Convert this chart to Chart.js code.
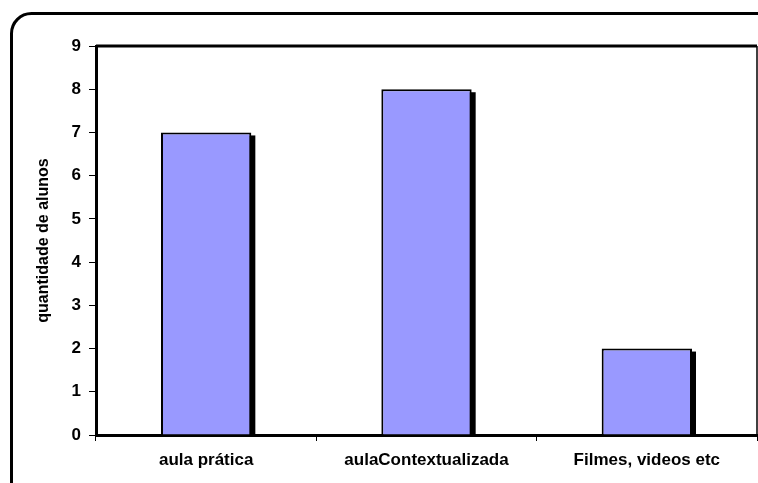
<!DOCTYPE html>
<html lang="pt">
<head>
<meta charset="UTF-8">
<title>Quantidade de alunos</title>
<script src="https://cdn.jsdelivr.net/npm/chart.js"></script>
<style>
    html, body { margin: 0; padding: 0; background: #ffffff; }
    #wrap { width: 758px; height: 483px; position: relative; }
</style>
</head>
<body>
<div id="wrap"><canvas id="grafico"></canvas></div>
<script>
    const categorias = ['aula prática', 'aulaContextualizada', 'Filmes, videos etc'];
    const alunos = [7, 8, 2];
    const yTicks = [0, 1, 2, 3, 4, 5, 6, 7, 8, 9];

    const fonte = "'Liberation Sans', Arial, sans-serif";

    // moldura arredondada, borda do gráfico e sombra das barras (estilo Excel)
    const estiloExcel = {
        id: 'estiloExcel',
        beforeDraw(chart) {
            const ctx = chart.ctx;
            ctx.save();
            ctx.fillStyle = '#ffffff';
            ctx.fillRect(0, 0, chart.width, chart.height);
            ctx.strokeStyle = '#000000';
            ctx.lineWidth = 3;
            ctx.beginPath();
            ctx.roundRect(11.5, 13.5, 820, 540, 20);
            ctx.stroke();
            ctx.restore();
        },
        beforeDatasetsDraw(chart) {
            const ctx = chart.ctx;
            const area = chart.chartArea;
            ctx.save();
            ctx.fillStyle = '#000000';
            chart.getDatasetMeta(0).data.forEach(bar => {
                const p = bar.getProps(['x', 'y', 'base', 'width'], true);
                ctx.fillRect(p.x - p.width / 2 + 4, p.y + 3, p.width, p.base - p.y - 3);
            });
            // linhas superior e direita da área de plotagem
            ctx.strokeStyle = '#000000';
            ctx.lineWidth = 3;
            ctx.beginPath();
            ctx.moveTo(area.left, area.top);
            ctx.lineTo(area.right, area.top);
            ctx.stroke();
            ctx.lineWidth = 1.5;
            ctx.beginPath();
            ctx.moveTo(area.right, area.top);
            ctx.lineTo(area.right, area.bottom);
            ctx.stroke();
            ctx.restore();
        }
    };

    new Chart(document.getElementById('grafico'), {
        type: 'bar',
        data: {
            labels: categorias,
            datasets: [{
                data: alunos,
                backgroundColor: '#9999ff',
                borderColor: '#000000',
                borderWidth: 2,
                borderSkipped: 'bottom',
                barPercentage: 0.41,
                categoryPercentage: 1
            }]
        },
        options: {
            responsive: true,
            maintainAspectRatio: false,
            animation: false,
            layout: { padding: { left: 34, top: 46, right: 1, bottom: 0 } },
            plugins: {
                legend: { display: false },
                tooltip: { enabled: false }
            },
            scales: {
                x: {
                    grid: {
                        display: true,
                        drawOnChartArea: false,
                        offset: true,
                        color: '#000000',
                        lineWidth: 1,
                        tickLength: 6
                    },
                    border: { color: '#000000', width: 3 },
                    ticks: {
                        color: '#000000',
                        padding: 9,
                        maxRotation: 0,
                        font: { family: fonte, size: 17, weight: 'bold' }
                    },
                    afterFit(axis) { axis.height = 48; }
                },
                y: {
                    min: 0,
                    max: 9,
                    afterBuildTicks(axis) { axis.ticks = yTicks.map(v => ({ value: v })); },
                    grid: {
                        display: true,
                        drawOnChartArea: false,
                        color: '#000000',
                        lineWidth: 1,
                        tickLength: 7
                    },
                    border: { color: '#000000', width: 3 },
                    ticks: {
                        color: '#000000',
                        padding: 8,
                        font: { family: fonte, size: 17, weight: 'bold' }
                    },
                    title: {
                        display: true,
                        text: 'quantidade de alunos',
                        color: '#000000',
                        padding: 0,
                        font: { family: fonte, size: 16, weight: 'bold' }
                    },
                    afterFit(axis) { axis.width = 62; }
                }
            }
        },
        plugins: [estiloExcel]
    });
</script>
</body>
</html>
